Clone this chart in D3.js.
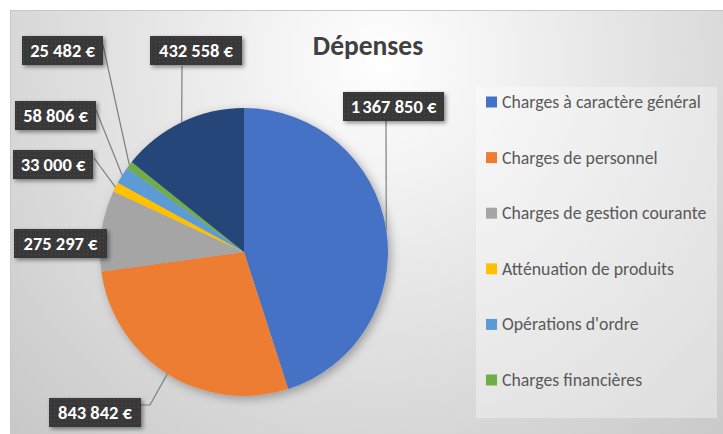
<!DOCTYPE html>
<html lang="fr">
<head>
<meta charset="UTF-8">
<title>Dépenses</title>
<script src="https://d3js.org/d3.v7.min.js"></script>
<style>
  body { margin: 0; background: #fff; font-family: Carlito, Calibri, "Liberation Sans", Arial, sans-serif; }
  svg { display: block; }
</style>
</head>
<body>
<div id="chart"></div>
<script>
// données
const categories = [
  "Charges à caractère général",
  "Charges de personnel",
  "Charges de gestion courante",
  "Atténuation de produits",
  "Opérations d'ordre",
  "Charges financières",
  "Autres"
];
const values = [1367850, 843842, 275297, 33000, 58806, 25482, 432558];
const colors = ["#4472C4", "#ED7D31", "#A5A5A5", "#FFC000", "#5B9BD5", "#70AD47", "#264478"];

// where each value box sits (x, y of top-left) and where its leader starts
const labelLayout = [
  {x: 343, y: 92, w: 101, lx: 386, ly: 121},
  {x: 49, y: 398, w: 92, lx: 141, ly: 405, elbow: [150, 405]},
  {x: 14, y: 229, w: 93, lx: null},
  {x: 13, y: 150, w: 80, lx: 94, ly: 158},
  {x: 15, y: 101, w: 81, lx: 96, ly: 110},
  {x: 22, y: 36, w: 81, lx: 103, ly: 45},
  {x: 150, y: 36, w: 92, lx: 182, ly: 66}
];

const W = 723, H = 434;
const cx = 244, cy = 252, R = 144;

const svg = d3.select("#chart").append("svg")
  .attr("width", W).attr("height", H);

const defs = svg.append("defs");

const bg = defs.append("radialGradient")
  .attr("id", "bg")
  .attr("gradientUnits", "userSpaceOnUse")
  .attr("cx", 380).attr("cy", 60).attr("r", 560);
bg.append("stop").attr("offset", "0%").attr("stop-color", "#ffffff");
bg.append("stop").attr("offset", "45%").attr("stop-color", "#e4e4e4");
bg.append("stop").attr("offset", "100%").attr("stop-color", "#c4c4c4");

const pat = defs.append("pattern")
  .attr("id", "dots")
  .attr("patternUnits", "userSpaceOnUse")
  .attr("width", 4).attr("height", 4);
pat.append("rect").attr("width", 4).attr("height", 4).attr("fill", "#383838");
pat.append("rect").attr("x", 1).attr("y", 1).attr("width", 1).attr("height", 1).attr("fill", "#4e4e4e");

const shadow = defs.append("filter").attr("id", "shadow")
  .attr("x", "-20%").attr("y", "-20%").attr("width", "150%").attr("height", "150%");
shadow.append("feDropShadow")
  .attr("dx", 2).attr("dy", 2).attr("stdDeviation", 2)
  .attr("flood-color", "#000").attr("flood-opacity", 0.45);

const pieShadow = defs.append("filter").attr("id", "pieShadow")
  .attr("x", "-20%").attr("y", "-20%").attr("width", "140%").attr("height", "140%");
pieShadow.append("feDropShadow")
  .attr("dx", 3).attr("dy", 3).attr("stdDeviation", 5)
  .attr("flood-color", "#000").attr("flood-opacity", 0.3);

// chart area
svg.append("rect")
  .attr("x", 10.5).attr("y", 10.5)
  .attr("width", W - 10).attr("height", H - 10)
  .attr("fill", "url(#bg)")
  .attr("stroke", "#c8c8c8");

// title
svg.append("text")
  .attr("x", 368).attr("y", 55)
  .attr("text-anchor", "middle")
  .attr("font-size", 27.5).attr("font-weight", "bold")
  .attr("fill", "#404040")
  .text("Dépenses");

// pie
const data = values.map((v, i) => ({name: categories[i], value: v, color: colors[i]}));
const pie = d3.pie().sort(null).value(d => d.value);
const arcs = pie(data);
const arc = d3.arc().innerRadius(0).outerRadius(R);

const g = svg.append("g").attr("transform", `translate(${cx},${cy})`);
g.append("g").attr("filter", "url(#pieShadow)")
  .selectAll("path")
  .data(arcs)
  .enter().append("path")
  .attr("d", arc)
  .attr("fill", d => d.data.color);

// leader lines
const edge = d3.arc().innerRadius(R).outerRadius(R);
arcs.forEach((a, i) => {
  const L = labelLayout[i];
  if (L.lx == null) return;
  const p = edge.centroid(a);
  const pts = [[L.lx, L.ly]];
  if (L.elbow) pts.push(L.elbow);
  pts.push([cx + p[0], cy + p[1]]);
  svg.append("path")
    .attr("d", d3.line()(pts))
    .attr("fill", "none")
    .attr("stroke", "#7f7f7f")
    .attr("stroke-width", 1.2);
});

// value boxes, e.g. "1367 850 €" (narrow gap for millions, like Excel)
const fmt = v => {
  const parts = d3.format(",")(v).split(",");
  const head = parts.length > 2 ? parts[0] + "\u200A" + parts[1] : parts[0];
  const tail = parts.length > 2 ? parts.slice(2) : parts.slice(1);
  return [head].concat(tail).join(" ") + " €";
};
const labels = svg.append("g").selectAll("g")
  .data(arcs)
  .enter().append("g")
  .attr("transform", (d, i) => `translate(${labelLayout[i].x},${labelLayout[i].y})`);
labels.append("rect")
  .attr("width", (d, i) => labelLayout[i].w)
  .attr("height", 29)
  .attr("fill", "url(#dots)")
  .attr("filter", "url(#shadow)");
labels.append("text")
  .attr("x", (d, i) => labelLayout[i].w / 2)
  .attr("y", 21)
  .attr("text-anchor", "middle")
  .attr("font-size", 18.5).attr("font-weight", "bold")
  .attr("fill", "#ffffff")
  .text(d => fmt(d.data.value));

// legend (the box only has room for six entries)
const legX = 476, legY = 87, legW = 241, legH = 331, step = 55.6;
svg.append("rect")
  .attr("x", legX).attr("y", legY).attr("width", legW).attr("height", legH)
  .attr("fill", "#ffffff").attr("fill-opacity", 0.35);

const legend = svg.append("g")
  .selectAll("g")
  .data(data.filter((d, i) => 102 + i * step + 8 < legY + legH))
  .enter().append("g")
  .attr("transform", (d, i) => `translate(486,${102 + i * step})`);
legend.append("rect")
  .attr("x", 0).attr("y", -5.5)
  .attr("width", 11).attr("height", 11)
  .attr("fill", d => d.color);
legend.append("text")
  .attr("x", 16).attr("y", 6)
  .attr("font-size", 17.8)
  .attr("fill", "#595959")
  .text(d => d.name);
</script>
</body>
</html>
